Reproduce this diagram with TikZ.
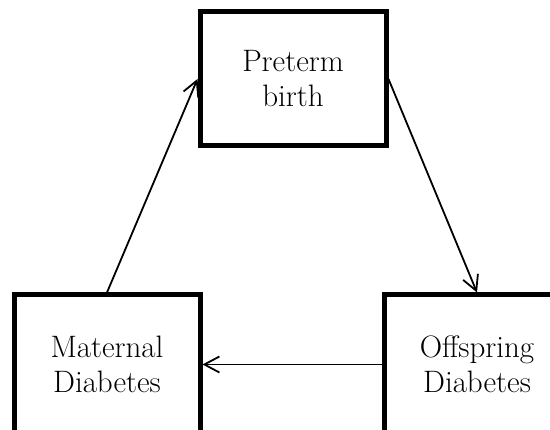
\documentclass[tikz,border=0pt]{standalone}
\usetikzlibrary{arrows.meta}
\begin{document}
\begin{tikzpicture}[x=1pt,y=-1pt,
  box/.style={draw, line width=5pt, minimum width=186pt, minimum height=134pt,
    align=center, inner sep=0pt, font=\fontsize{31}{35}\selectfont},
  arr/.style={line width=1.8pt, -{Straight Barb[length=15pt,width=16pt,line width=1.8pt]}}]
\useasboundingbox (0,0) rectangle (550,430);
\clip (0,0) rectangle (550,430);
\node[box] (top) at (293,79) {Preterm\\birth};
\node[box, minimum height=139pt] (left) at (107,364.5) {Maternal\\Diabetes};
\node[box, minimum height=139pt] (right) at (477,364.5) {Offspring\\Diabetes};
\draw[arr] (left.north) -- (top.west);
\draw[arr] (top.east) -- (right.north);
\draw[arr] (right.west) -- (left.east);
\end{tikzpicture}
\end{document}
